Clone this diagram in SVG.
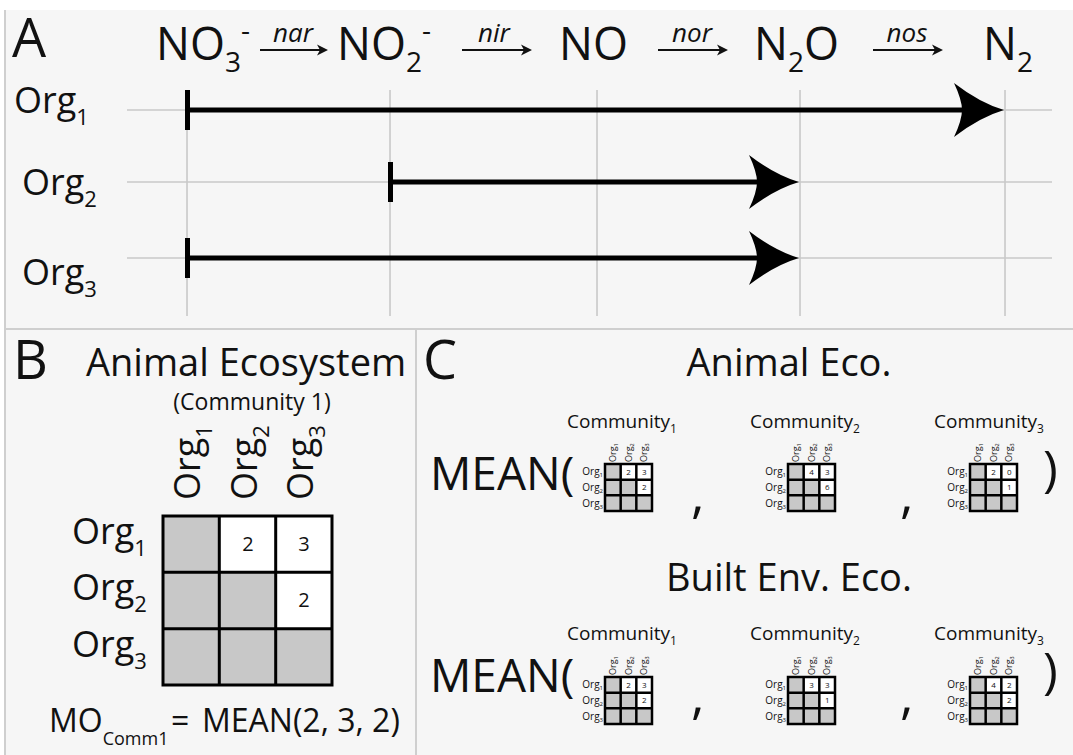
<svg xmlns="http://www.w3.org/2000/svg" xmlns:xlink="http://www.w3.org/1999/xlink" width="1073" height="755" viewBox="0 0 1073 755">
  <style>
    text { font-family: "Open Sans", "Noto Sans", "Liberation Sans", sans-serif; fill: #111; }
    .grid { stroke: #c9c9c9; stroke-width: 1.6; fill: none; }
    .divider { stroke: #cfcfcf; stroke-width: 2; fill: none; }
    .path-line { stroke: #000; stroke-width: 5; fill: none; }
    .tick { fill: #000; }
    .head { fill: #000; }
    .enz { stroke: #111; stroke-width: 2.2; fill: none; }
    .enz-head { fill: #111; }
    .enz-label { font-size: 26px; font-style: italic; text-anchor: middle; }
    .chem { font-size: 45px; }
    .org { font-size: 36px; }
    .panel-letter { font-size: 54px; }
    .title { font-size: 38px; }
    .cell-gray { fill: #c8c8c8; }
    .cell-white { fill: #ffffff; }
    .grid-big { stroke: #000; stroke-width: 3; fill: none; }
    .grid-mini { stroke: #000; stroke-width: 2.5; fill: none; }
    .num { font-size: 20px; text-anchor: middle; }
    .num-mini { font-size: 8px; text-anchor: middle; }
    .mini-lbl { font-size: 10px; }
    .mini-col { font-size: 9px; }
    .comm { font-size: 19px; }
    .mean { font-size: 46px; }
  </style>
  <defs>
    <!-- 3x3 pairwise matrix, top-left at origin, 47 px square -->
    <g id="mini">
      <rect x="0" y="0" width="47" height="47" class="cell-gray"/>
      <rect x="15.67" y="0" width="31.33" height="15.67" class="cell-white"/>
      <rect x="31.33" y="15.67" width="15.67" height="15.67" class="cell-white"/>
      <path class="grid-mini" d="M0,0 H47 V47 H0 Z M15.67,0 V47 M31.33,0 V47 M0,15.67 H47 M0,31.33 H47"/>
      <text class="mini-lbl" text-anchor="end" x="-2" y="11.3">Org<tspan font-size="6" dy="2">1</tspan></text>
      <text class="mini-lbl" text-anchor="end" x="-2" y="27">Org<tspan font-size="6" dy="2">2</tspan></text>
      <text class="mini-lbl" text-anchor="end" x="-2" y="42.7">Org<tspan font-size="6" dy="2">3</tspan></text>
      <text class="mini-col" transform="translate(11,-2) rotate(-90)">Org<tspan font-size="5.5" dy="2">1</tspan></text>
      <text class="mini-col" transform="translate(26.7,-2) rotate(-90)">Org<tspan font-size="5.5" dy="2">2</tspan></text>
      <text class="mini-col" transform="translate(42.3,-2) rotate(-90)">Org<tspan font-size="5.5" dy="2">3</tspan></text>
    </g>
  </defs>

  <!-- page and panel frames -->
  <rect x="0" y="0" width="1073" height="755" fill="#ffffff"/>
  <rect x="5" y="10" width="1068" height="745" fill="#f6f6f6"/>
  <line class="divider" x1="5" y1="10" x2="5" y2="755"/>
  <line class="divider" x1="5" y1="329" x2="1073" y2="329"/>
  <line class="divider" x1="416" y1="329" x2="416" y2="755"/>

  <!-- ===== Panel A: denitrification pathway ===== -->
  <g id="panel-a-grid">
    <path class="grid" d="M127,110 H1052 M127,182 H1052 M127,258 H1052"/>
    <path class="grid" d="M187,90 V316 M390,90 V316 M597,90 V316 M800,90 V316 M1005,90 V316"/>
  </g>

  <g id="panel-a-label"><text class="panel-letter" x="12" y="57">A</text></g>

  <g id="species-no3"><text class="chem" x="156" y="60">NO<tspan font-size="28" dy="12">3</tspan><tspan font-size="28" dy="-32">-</tspan></text></g>
  <g id="species-no2"><text class="chem" x="337" y="60">NO<tspan font-size="28" dy="12">2</tspan><tspan font-size="28" dy="-32">-</tspan></text></g>
  <g id="species-no"><text class="chem" x="559" y="60">NO</text></g>
  <g id="species-n2o"><text class="chem" x="754" y="60">N<tspan font-size="28" dy="12">2</tspan><tspan dy="-12">O</tspan></text></g>
  <g id="species-n2"><text class="chem" x="983" y="60">N<tspan font-size="28" dy="12">2</tspan></text></g>

  <g id="enzyme-steps">
    <text class="enz-label" x="293" y="42">nar</text>
    <path class="enz" d="M260,50 H320"/><path class="enz-head" d="M328,50 L317,44.5 L320,50 L317,55.5 Z"/>
    <text class="enz-label" x="494" y="42">nir</text>
    <path class="enz" d="M462,50 H524"/><path class="enz-head" d="M532,50 L521,44.5 L524,50 L521,55.5 Z"/>
    <text class="enz-label" x="692" y="42">nor</text>
    <path class="enz" d="M658,50 H720"/><path class="enz-head" d="M728,50 L717,44.5 L720,50 L717,55.5 Z"/>
    <text class="enz-label" x="907" y="42">nos</text>
    <path class="enz" d="M873,50 H935"/><path class="enz-head" d="M943,50 L932,44.5 L935,50 L932,55.5 Z"/>
  </g>

  <g id="org1-row">
    <text class="org" x="14" y="113">Org<tspan font-size="22" dy="12">1</tspan></text>
  </g>
  <g id="org2-row">
    <text class="org" x="22" y="195">Org<tspan font-size="22" dy="12">2</tspan></text>
  </g>
  <g id="org3-row">
    <text class="org" x="22" y="285">Org<tspan font-size="22" dy="12">3</tspan></text>
  </g>

  <g id="connectors">
    <!-- Org1: NO3- to N2 -->
    <rect class="tick" x="185" y="90" width="5" height="40"/>
    <line class="path-line" x1="187" y1="110" x2="966" y2="110"/>
    <path class="head" d="M1004,110 Q980,103 954,83 Q962,100 962,110 Q962,120 954,137 Q980,117 1004,110 Z"/>
    <!-- Org2: NO2- to N2O -->
    <rect class="tick" x="388" y="162" width="5" height="40"/>
    <line class="path-line" x1="390" y1="182" x2="761" y2="182"/>
    <path class="head" d="M799,182 Q775,175 749,155 Q757,172 757,182 Q757,192 749,209 Q775,189 799,182 Z"/>
    <!-- Org3: NO3- to N2O -->
    <rect class="tick" x="185" y="238" width="5" height="40"/>
    <line class="path-line" x1="187" y1="258" x2="761" y2="258"/>
    <path class="head" d="M799,258 Q775,251 749,231 Q757,248 757,258 Q757,268 749,285 Q775,265 799,258 Z"/>
  </g>

  <!-- ===== Panel B: one community matrix ===== -->
  <g id="panel-b-title">
    <text class="panel-letter" x="13" y="379">B</text>
    <text class="title" x="86" y="376">Animal Ecosystem</text>
    <text x="252" y="410" font-size="23" text-anchor="middle">(Community 1)</text>
  </g>

  <g id="matrix-b">
    <rect x="163" y="516" width="169" height="169" class="cell-gray"/>
    <rect x="219.3" y="516" width="112.7" height="56.3" class="cell-white"/>
    <rect x="275.7" y="572.3" width="56.3" height="56.3" class="cell-white"/>
    <path class="grid-big" d="M163,516 H332 V685 H163 Z M219.3,516 V685 M275.7,516 V685 M163,572.3 H332 M163,628.7 H332"/>
    <text class="num" x="248" y="551">2</text>
    <text class="num" x="304" y="551">3</text>
    <text class="num" x="304" y="607">2</text>
    <text class="org" x="72" y="544">Org<tspan font-size="22" dy="12">1</tspan></text>
    <text class="org" x="72" y="600">Org<tspan font-size="22" dy="12">2</tspan></text>
    <text class="org" x="72" y="657">Org<tspan font-size="22" dy="12">3</tspan></text>
    <text class="org" transform="translate(200,500) rotate(-90)">Org<tspan font-size="22" dy="12">1</tspan></text>
    <text class="org" transform="translate(257,500) rotate(-90)">Org<tspan font-size="22" dy="12">2</tspan></text>
    <text class="org" transform="translate(313,500) rotate(-90)">Org<tspan font-size="22" dy="12">3</tspan></text>
  </g>

  <g id="mo-formula">
    <text x="49" y="732" font-size="32">MO<tspan font-size="18" dy="13">Comm1</tspan></text>
    <text x="171" y="732" font-size="32">=</text>
    <text x="202" y="732" font-size="32">MEAN(2, 3, 2)</text>
  </g>

  <!-- ===== Panel C: mean over communities ===== -->
  <g id="panel-c-label"><text class="panel-letter" x="423" y="379">C</text></g>

  <g id="animal-eco">
    <text class="title" x="789" y="376" text-anchor="middle">Animal Eco.</text>
    <text class="mean" x="430" y="490">MEAN(</text>
    <text class="comm" x="567" y="428">Community<tspan font-size="12" dy="5">1</tspan></text>
    <text class="comm" x="750" y="428">Community<tspan font-size="12" dy="5">2</tspan></text>
    <text class="comm" x="934" y="428">Community<tspan font-size="12" dy="5">3</tspan></text>
    <use xlink:href="#mini" x="605" y="464"/>
    <use xlink:href="#mini" x="788" y="464"/>
    <use xlink:href="#mini" x="970" y="464"/>
    <g class="num-mini">
      <text x="628.5" y="474.5">2</text><text x="644.2" y="474.5">3</text><text x="644.2" y="490.2">2</text>
      <text x="811.5" y="474.5">4</text><text x="827.2" y="474.5">3</text><text x="827.2" y="490.2">6</text>
      <text x="993.5" y="474.5">2</text><text x="1009.2" y="474.5">0</text><text x="1009.2" y="490.2">1</text>
    </g>
    <text x="691" y="512" font-size="52">,</text>
    <text x="900" y="512" font-size="52">,</text>
    <text x="1043" y="486" font-size="50">)</text>
  </g>

  <g id="built-env-eco">
    <text class="title" x="789" y="591" text-anchor="middle">Built Env. Eco.</text>
    <text class="mean" x="430" y="692">MEAN(</text>
    <text class="comm" x="567" y="640">Community<tspan font-size="12" dy="5">1</tspan></text>
    <text class="comm" x="750" y="640">Community<tspan font-size="12" dy="5">2</tspan></text>
    <text class="comm" x="934" y="640">Community<tspan font-size="12" dy="5">3</tspan></text>
    <use xlink:href="#mini" x="605" y="677"/>
    <use xlink:href="#mini" x="788" y="677"/>
    <use xlink:href="#mini" x="970" y="677"/>
    <g class="num-mini">
      <text x="628.5" y="687.5">2</text><text x="644.2" y="687.5">3</text><text x="644.2" y="703.2">2</text>
      <text x="811.5" y="687.5">3</text><text x="827.2" y="687.5">3</text><text x="827.2" y="703.2">1</text>
      <text x="993.5" y="687.5">4</text><text x="1009.2" y="687.5">2</text><text x="1009.2" y="703.2">2</text>
    </g>
    <text x="691" y="713" font-size="52">,</text>
    <text x="900" y="713" font-size="52">,</text>
    <text x="1043" y="688" font-size="50">)</text>
  </g>
</svg>
